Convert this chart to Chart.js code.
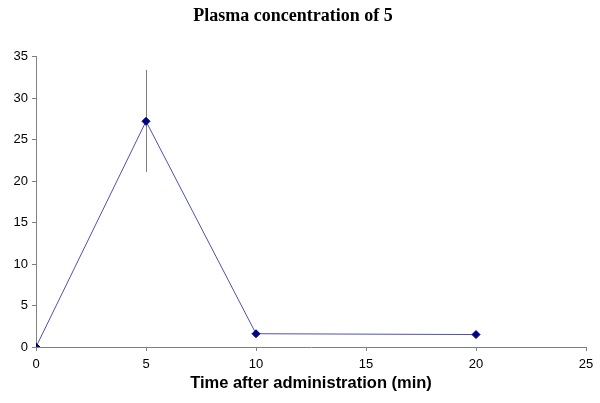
<!DOCTYPE html>
<html><head><meta charset="utf-8">
<script src="https://cdn.jsdelivr.net/npm/chart.js@4/dist/chart.umd.min.js"></script>
<style>html,body{margin:0;padding:0;background:#fff}#wrap{width:600px;height:403px}</style>
</head><body><div id="wrap"><canvas id="c" width="600" height="403"></canvas></div>
<script>
const times = [0, 5, 10, 20];
const concentration = [0, 27.2, 1.6, 1.5];
const errorPlus = [0, 6.2, 0, 0];
const errorMinus = [0, 6.1, 0, 0];
const xTicks = [0, 5, 10, 15, 20, 25];
const yTicks = [0, 5, 10, 15, 20, 25, 30, 35];

const errorBarPlugin = {
  id: 'errbars',
  beforeDatasetsDraw(chart) {
    const ctx = chart.ctx, xs = chart.scales.x, ys = chart.scales.y;
    ctx.save();
    ctx.strokeStyle = '#808080';
    ctx.lineWidth = 1;
    times.forEach((t, i) => {
      if (!errorPlus[i] && !errorMinus[i]) return;
      const px = Math.round(xs.getPixelForValue(t)) + 0.5;
      ctx.beginPath();
      ctx.moveTo(px, ys.getPixelForValue(concentration[i] + errorPlus[i]));
      ctx.lineTo(px, ys.getPixelForValue(concentration[i] - errorMinus[i]));
      ctx.stroke();
    });
    ctx.restore();
  }
};

new Chart(document.getElementById('c'), {
  type: 'line',
  data: {
    datasets: [{
      data: times.map((t, i) => ({x: t, y: concentration[i]})),
      borderColor: '#5050b0',
      borderWidth: 1,
      backgroundColor: '#000080',
      pointBackgroundColor: '#000080',
      pointBorderColor: '#000080',
      pointStyle: 'rectRot',
      pointRadius: 4,
      pointBorderWidth: 1,
      tension: 0
    }]
  },
  options: {
    responsive: false,
    animation: false,
    layout: {padding: {left: 0, right: 14, top: 6, bottom: 10}},
    plugins: {
      legend: {display: false},
      tooltip: {enabled: false},
      title: {
        display: true,
        text: 'Plasma concentration of 5',
        color: '#000',
        font: {family: '"Liberation Serif", "Times New Roman", serif', size: 18, weight: 'bold'},
        padding: {top: 0, bottom: 29}
      }
    },
    scales: {
      x: {
        type: 'linear', min: 0, max: 25,
        afterBuildTicks(s) { s.ticks = xTicks.map(v => ({value: v})); },
        afterFit(s) { s.height = 46; },
        grid: {display: true, drawOnChartArea: false, drawTicks: true, tickLength: 4, color: '#808080'},
        border: {color: '#808080', width: 1},
        ticks: {color: '#000', font: {family: '"Liberation Sans", Arial, sans-serif', size: 13}, padding: 6, maxRotation: 0},
        title: {display: true, text: 'Time after administration (min)', color: '#000',
          font: {family: '"Liberation Sans", Arial, sans-serif', size: 16.5, weight: 'bold'}, padding: {top: 0, bottom: 0}}
      },
      y: {
        type: 'linear', min: 0, max: 35,
        afterBuildTicks(s) { s.ticks = yTicks.map(v => ({value: v})); },
        afterFit(s) { s.width = 36; },
        grid: {display: true, drawOnChartArea: false, drawTicks: true, tickLength: 4, color: '#808080'},
        border: {color: '#808080', width: 1},
        ticks: {color: '#000', font: {family: '"Liberation Sans", Arial, sans-serif', size: 13}, padding: 4}
      }
    }
  },
  plugins: [errorBarPlugin]
});
</script>
</body></html>
